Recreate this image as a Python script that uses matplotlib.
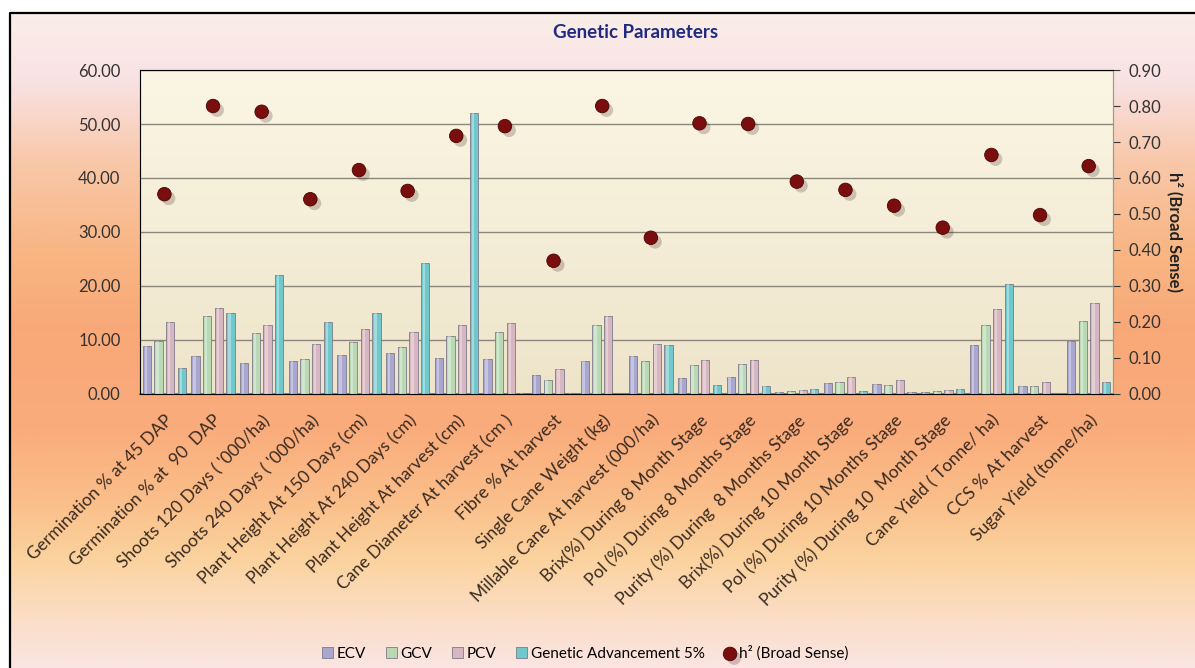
import numpy as np
import matplotlib.pyplot as plt
import matplotlib.patheffects as pe
from matplotlib.lines import Line2D

categories = ["Germination % at 45 DAP", "Germination % at  90  DAP",
              "Shoots 120 Days ( '000/ha)", "Shoots 240 Days ( '000/ha)",
              "Plant Height At 150 Days (cm)", "Plant Height At 240 Days (cm)",
              "Plant Height At harvest (cm)", "Cane Diameter At harvest (cm )",
              "Fibre % At harvest", "Single Cane Weight (kg)",
              "Millable Cane At harvest (000/ha)", "Brix(%) During 8 Month Stage",
              "Pol (%) During 8 Months Stage", "Purity (%) During  8 Months Stage",
              "Brix(%) During 10 Month Stage", "Pol (%) During 10 Months Stage",
              "Purity (%) During 10  Month Stage", "Cane Yield ( Tonne/ ha)",
              "CCS % At harvest", "Sugar Yield (tonne/ha)"]

ecv = [8.9, 7.1, 5.7, 6.1, 7.3, 7.6, 6.6, 6.5, 3.5, 6.2,
       7.1, 2.9, 3.1, 0.3, 2.1, 1.9, 0.4, 9.1, 1.5, 9.9]
gcv = [9.9, 14.5, 11.3, 6.5, 9.6, 8.7, 10.7, 11.4, 2.6, 12.8,
       6.1, 5.4, 5.6, 0.5, 2.3, 1.7, 0.6, 12.8, 1.5, 13.5]
pcv = [13.3, 16.0, 12.8, 9.2, 12.0, 11.4, 12.7, 13.2, 4.6, 14.4,
       9.3, 6.3, 6.3, 0.7, 3.1, 2.5, 0.8, 15.8, 2.3, 16.8]
ga = [4.8, 15.0, 22.0, 13.3, 15.0, 24.2, 52.1, 0.2, 0.1, 0.0,
      9.1, 1.7, 1.4, 0.9, 0.6, 0.3, 0.9, 20.3, 0.0, 2.3]
h2 = [0.555, 0.80, 0.784, 0.541, 0.622, 0.564, 0.717, 0.744, 0.37, 0.80,
      0.434, 0.752, 0.75, 0.59, 0.567, 0.523, 0.462, 0.664, 0.497, 0.633]

series = [("ECV", ecv, "#a9a6cf"), ("GCV", gcv, "#b8d9b4"),
          ("PCV", pcv, "#d6b6c0"), ("Genetic Advancement 5%", ga, "#6fc8cb")]

plt.rcParams['font.family'] = ['Lato', 'DejaVu Sans']

fig = plt.figure(figsize=(11.95, 6.68), dpi=100)
fig.patch.set_facecolor('white')

# background gradient inside the black frame
bg = fig.add_axes([10 / 1195, 0, 1 - 10 / 1195, 1 - 13 / 668], zorder=-10)
stops = [0, 67, 147, 237, 317, 417, 487, 547, 607, 655]
stops = [s / 655 for s in stops]
cols = np.array([[250, 238, 232], [249, 226, 228], [248, 200, 170],
                 [248, 182, 132], [249, 168, 120], [250, 172, 124],
                 [250, 190, 138], [251, 211, 158], [251, 222, 200],
                 [251, 229, 226]]) / 255.0
t = np.linspace(0, 1, 400)
grad = np.stack([np.interp(t, stops, cols[:, k]) for k in range(3)], axis=1)
bg.imshow(np.repeat(grad[:, None, :], 10, axis=1), aspect='auto', extent=[0, 1, 0, 1])
bg.set_axis_off()
fig.add_artist(Line2D([10 / 1195, 10 / 1195, 1], [0, 1 - 13 / 668, 1 - 13 / 668],
                      transform=fig.transFigure, color='black', linewidth=1.6))

ax = fig.add_axes([0.1172, 0.4102, 0.8142, 0.4850])
ax.set_facecolor('none')
pa = np.linspace(0, 1, 100)
top_c = np.array([251, 246, 228]) / 255.0
bot_c = np.array([238, 228, 202]) / 255.0
pcol = top_c * (1 - pa[:, None]) + bot_c * pa[:, None]
ax.imshow(np.repeat(pcol[:, None, :], 5, axis=1), aspect='auto',
          extent=[-0.5, len(categories) - 0.5, 0, 60], zorder=-5)

x = np.arange(len(categories))
w = 0.17
offs = [-0.36, -0.12, 0.12, 0.36]
for (name, vals, c), o in zip(series, offs):
    ax.bar(x + o, vals, width=w, color=c, edgecolor='#7f7a8a', linewidth=0.6,
           label=name, zorder=3)
    # light stripe to give the cylinder look
    ax.bar(x + o - w * 0.12, vals, width=w * 0.3, color='white', alpha=0.35,
           linewidth=0, zorder=4)

ax.set_xlim(-0.5, len(categories) - 0.5)
ax.set_ylim(0, 60)
ax.set_yticks(np.arange(0, 61, 10))
ax.set_yticklabels(["%.2f" % v for v in np.arange(0, 61, 10)])
ax.yaxis.grid(True, color='#8c877c', linewidth=1.0)
ax.set_axisbelow(True)
ax.tick_params(axis='y', length=0, pad=14, labelsize=12, colors='#333333')
ax.set_xticks(x)
ax.set_xticklabels(categories, rotation=45, ha='right', rotation_mode='anchor',
                   fontsize=12.5, color='#3a2a20')
ax.tick_params(axis='x', length=0, pad=13)
for s in ['left', 'right', 'top']:
    ax.spines[s].set_color('#a09a8c')
ax.spines['bottom'].set_color('#8a8478')
ax.spines['bottom'].set_linewidth(1.5)

ax2 = ax.twinx()
ax2.set_ylim(0, 0.9)
ax2.set_yticks(np.arange(0, 0.91, 0.1))
ax2.set_yticklabels(["%.2f" % v for v in np.arange(0, 0.91, 0.1)])
ax2.tick_params(axis='y', length=5, pad=6, labelsize=12, colors='#333333')
ax2.spines['right'].set_color('#a09a8c')
ax2.scatter(x, h2, s=95, color='#7a0d0d', edgecolor='#4a0505', linewidth=0.6,
            zorder=5, label="h² (Broad Sense)",
            path_effects=[pe.SimplePatchShadow(offset=(3, -3), alpha=0.2), pe.Normal()])
ax2.set_ylabel("h² (Broad Sense)", rotation=270, labelpad=16, fontsize=12,
               fontweight='bold', color='#222222')

fig.text(0.532, 0.952, "Genetic Parameters", ha='center', va='center',
         fontsize=13.5, fontweight='bold', color='#1f2a80')

h1, l1 = ax.get_legend_handles_labels()
hh, ll = ax2.get_legend_handles_labels()
fig.legend(h1 + hh, l1 + ll, loc='center', bbox_to_anchor=(0.49, 0.022), ncol=5,
           frameon=False, fontsize=11, handlelength=0.7, handleheight=0.7,
           handletextpad=0.25, columnspacing=1.3)

fig.savefig("out.png", dpi=100)
